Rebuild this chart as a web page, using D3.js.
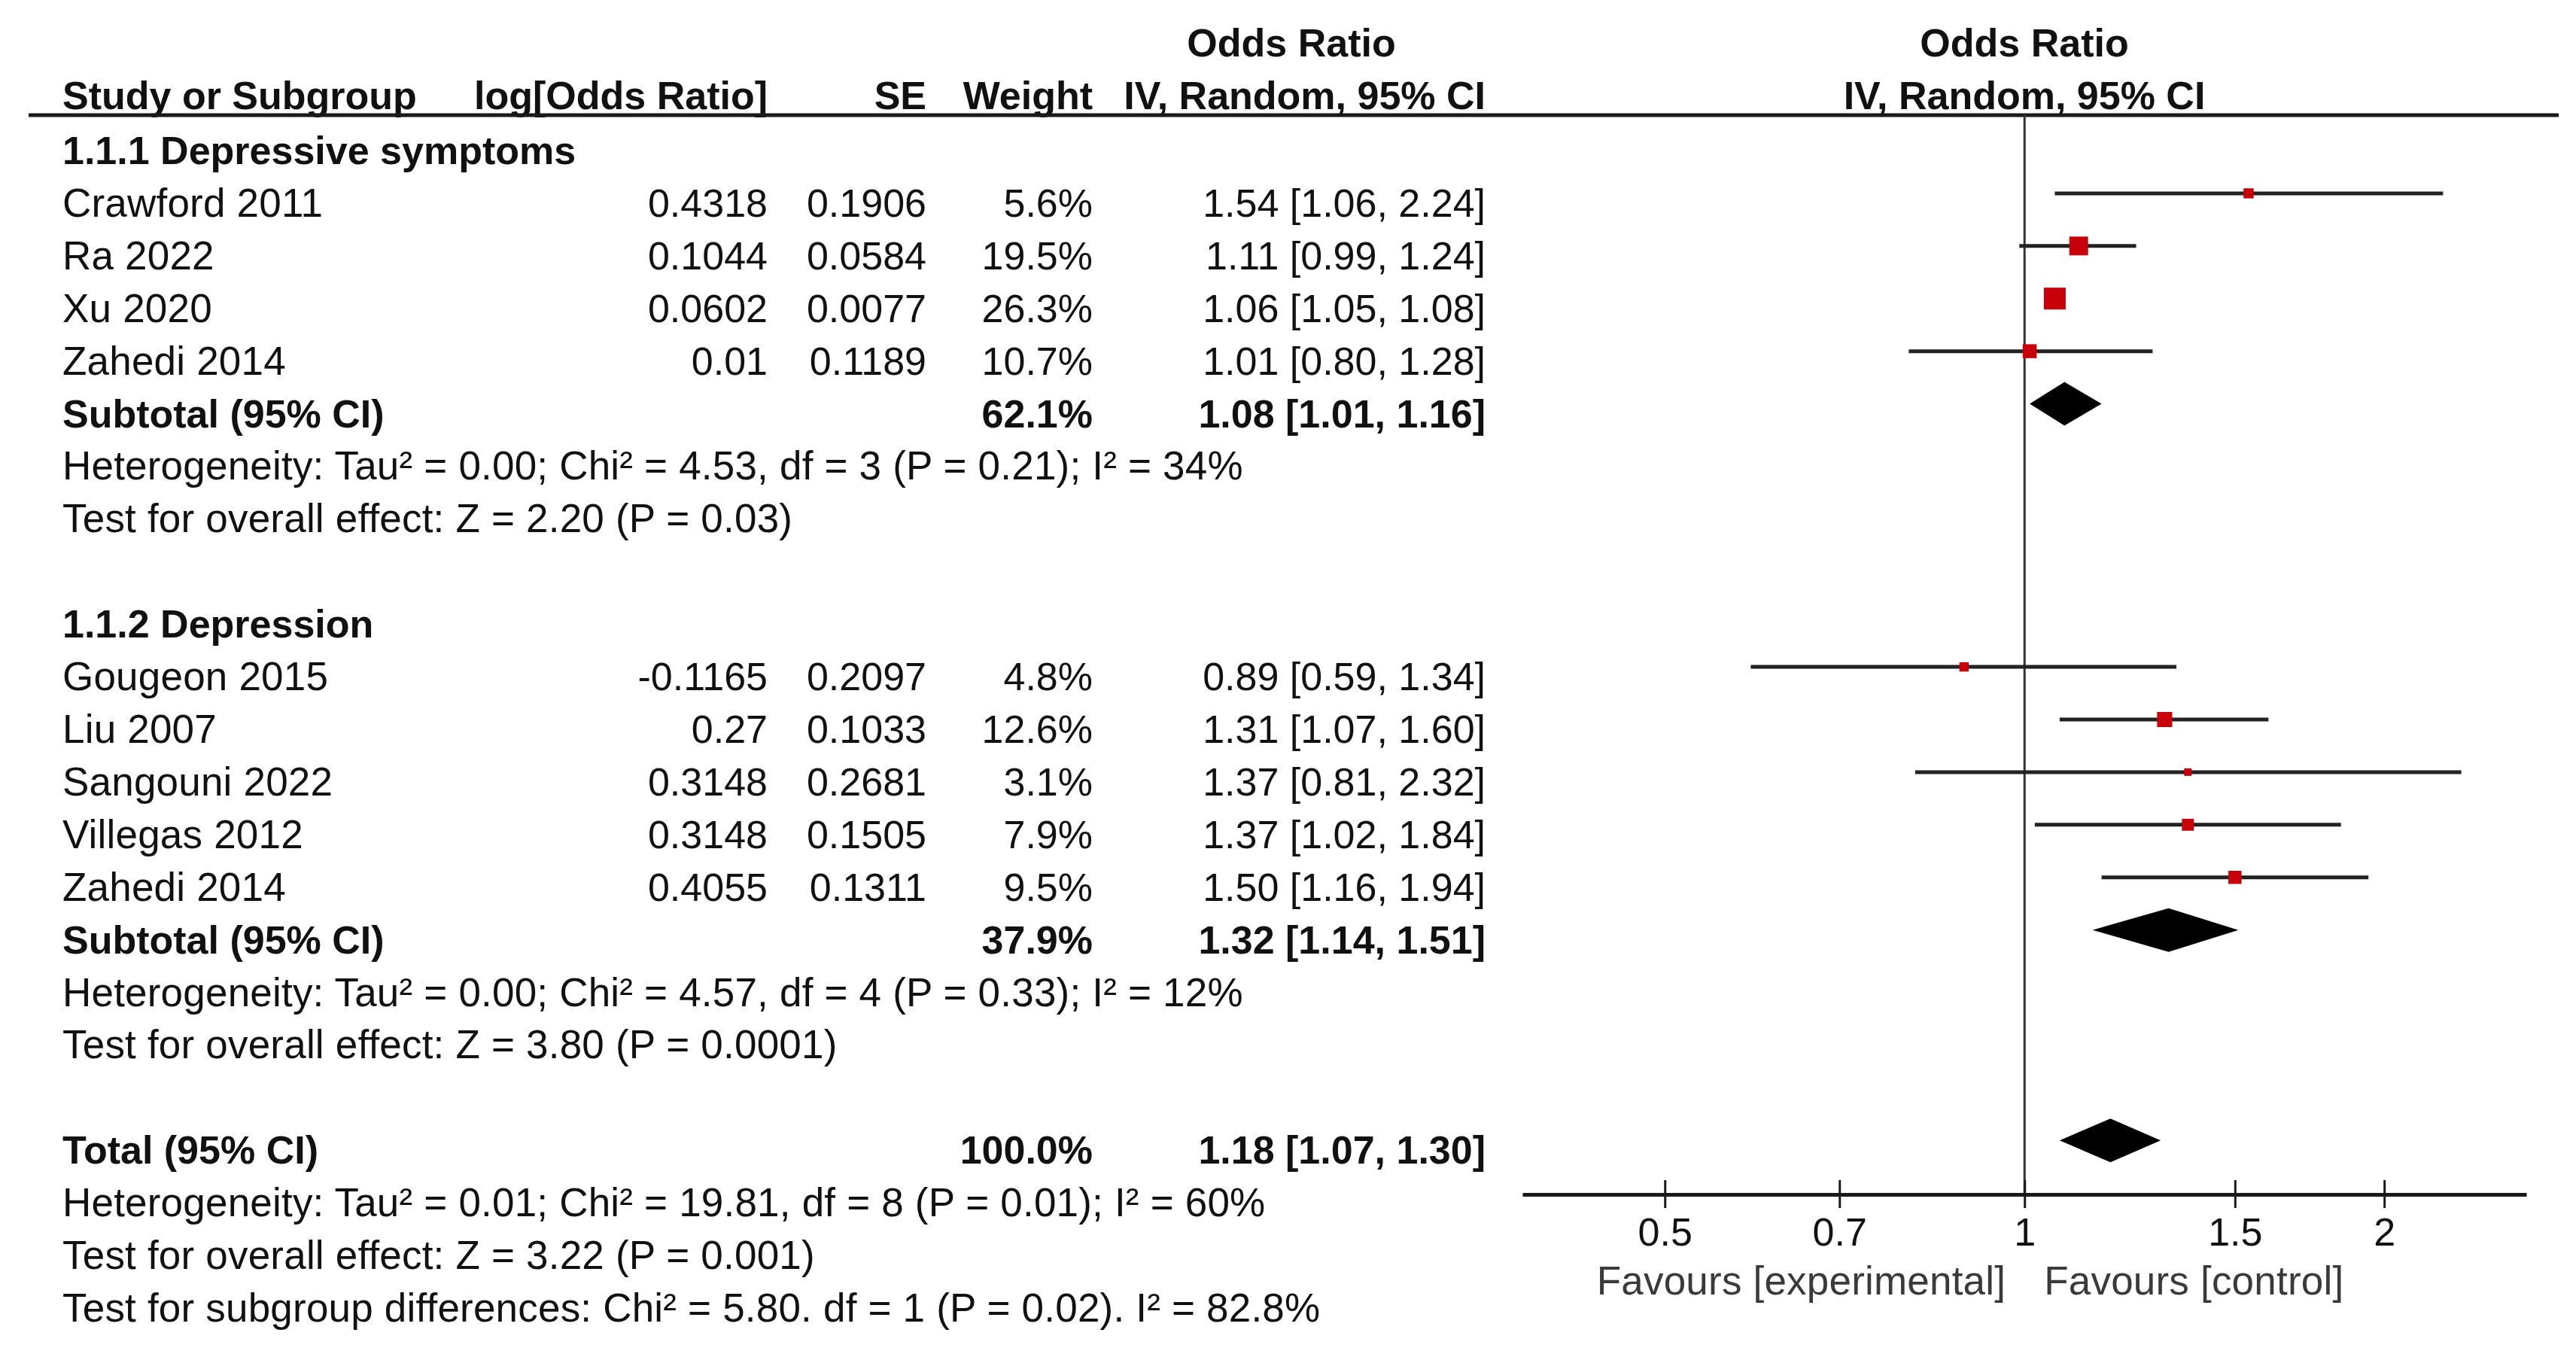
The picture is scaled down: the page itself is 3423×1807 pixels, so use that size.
<!DOCTYPE html>
<html>
<head>
<meta charset="utf-8">
<script src="https://cdn.jsdelivr.net/npm/d3@7"></script>
<style>
  body { margin: 0; background: #fff; }
  svg { display: block; }
  text { font-family: "Liberation Sans", Arial, sans-serif; font-size: 53px; letter-spacing: 0.2px; fill: #111; }
  .num { letter-spacing: 0; font-size: 52px; }
  .bold { font-weight: bold; font-size: 52px; letter-spacing: 0; }
</style>
</head>
<body>
<svg id="chart" width="3423" height="1807"></svg>
<script>
// study rows
const studyNames = ['Crawford 2011', 'Ra 2022', 'Xu 2020', 'Zahedi 2014',
  'Gougeon 2015', 'Liu 2007', 'Sangouni 2022', 'Villegas 2012', 'Zahedi 2014'];
const studyGroup = [0, 0, 0, 0, 1, 1, 1, 1, 1];
const logOddsRatio = [0.4318, 0.1044, 0.0602, 0.01, -0.1165, 0.27, 0.3148, 0.3148, 0.4055];
const standardError = [0.1906, 0.0584, 0.0077, 0.1189, 0.2097, 0.1033, 0.2681, 0.1505, 0.1311];
const weights = [5.6, 19.5, 26.3, 10.7, 4.8, 12.6, 3.1, 7.9, 9.5];
const oddsRatio = [1.54, 1.11, 1.06, 1.01, 0.89, 1.31, 1.37, 1.37, 1.50];
const ciLow = [1.06, 0.99, 1.05, 0.80, 0.59, 1.07, 0.81, 1.02, 1.16];
const ciHigh = [2.24, 1.24, 1.08, 1.28, 1.34, 1.60, 2.32, 1.84, 1.94];

// subgroups
const groupTitles = ['1.1.1 Depressive symptoms', '1.1.2 Depression'];
const subtotalWeight = [62.1, 37.9];
const subtotalOR = [1.08, 1.32];
const subtotalLow = [1.01, 1.14];
const subtotalHigh = [1.16, 1.51];
const groupHeterogeneity = [
  'Heterogeneity: Tau² = 0.00; Chi² = 4.53, df = 3 (P = 0.21); I² = 34%',
  'Heterogeneity: Tau² = 0.00; Chi² = 4.57, df = 4 (P = 0.33); I² = 12%'
];
const groupOverall = [
  'Test for overall effect: Z = 2.20 (P = 0.03)',
  'Test for overall effect: Z = 3.80 (P = 0.0001)'
];

// overall
const totalWeight = 100.0;
const totalOR = 1.18, totalLow = 1.07, totalHigh = 1.30;
const totalNotes = [
  'Heterogeneity: Tau² = 0.01; Chi² = 19.81, df = 8 (P = 0.01); I² = 60%',
  'Test for overall effect: Z = 3.22 (P = 0.001)',
  'Test for subgroup differences: Chi² = 5.80. df = 1 (P = 0.02). I² = 82.8%'
];

// axis
const tickValues = [0.5, 0.7, 1, 1.5, 2];
const favourLabels = ['Favours [experimental]', 'Favours [control]'];
const headerLabels = ['Study or Subgroup', 'log[Odds Ratio]', 'SE', 'Weight', 'IV, Random, 95% CI'];

const svg = d3.select('#chart');
const fmt2 = d3.format('.2f');
const ciText = (o, l, h) => `${fmt2(o)} [${fmt2(l)}, ${fmt2(h)}]`;

// layout
const col = { study: 83, logor: 1020, se: 1231, weight: 1452, ci: 1974, ciHead: 1716 };
const headerLineY = 153;
const axisY = 1587;
const markerOffset = -31;

const x = d3.scaleLog().domain([0.38, 2.63]).range([2023, 3357]);
const y = d3.scaleLinear().domain([0, 22]).range([218, 1756]);
const side = d3.scaleSqrt().domain([0, 26.3]).range([0, 29]);

// build the row list
const rows = [];
let idx = 0;
groupTitles.forEach((title, g) => {
  rows.push({ idx: idx++, type: 'title', label: title });
  studyNames.forEach((name, i) => {
    if (studyGroup[i] === g) rows.push({ idx: idx++, type: 'study', i });
  });
  rows.push({ idx: idx++, type: 'subtotal', g });
  rows.push({ idx: idx++, type: 'note', label: groupHeterogeneity[g] });
  rows.push({ idx: idx++, type: 'note', label: groupOverall[g] });
  idx++; // blank line
});
rows.push({ idx: idx++, type: 'total' });
totalNotes.forEach(t => rows.push({ idx: idx++, type: 'note', label: t }));

// headers
const midX = (x.range()[0] + x.range()[1]) / 2;
svg.append('text').attr('class', 'bold').attr('x', col.ciHead).attr('y', y(-2) - 3)
  .attr('text-anchor', 'middle').text('Odds Ratio');
svg.append('text').attr('class', 'bold').attr('x', midX).attr('y', y(-2) - 3)
  .attr('text-anchor', 'middle').text('Odds Ratio');
const headX = [col.study, col.logor, col.se, col.weight, col.ci];
svg.selectAll('.head').data(headerLabels).join('text')
  .attr('class', 'head bold')
  .attr('x', (d, i) => headX[i])
  .attr('y', y(-1) - 3)
  .attr('text-anchor', (d, i) => i === 0 ? 'start' : 'end')
  .text(d => d);
svg.append('text').attr('class', 'bold').attr('x', midX).attr('y', y(-1) - 3)
  .attr('text-anchor', 'middle').text('IV, Random, 95% CI');

svg.append('line').attr('x1', 38).attr('x2', 3400).attr('y1', headerLineY).attr('y2', headerLineY)
  .attr('stroke', '#1a1a1a').attr('stroke-width', 5);

// line of no effect
svg.append('line').attr('x1', x(1)).attr('x2', x(1)).attr('y1', headerLineY).attr('y2', axisY)
  .attr('stroke', '#333').attr('stroke-width', 3);

// text rows
const rowG = svg.selectAll('.row').data(rows).join('g')
  .attr('class', 'row')
  .attr('transform', d => `translate(0,${y(d.idx)})`);

rowG.each(function (d) {
  const g = d3.select(this);
  const put = (xx, anchor, txt, cls) => g.append('text')
    .attr('x', xx).attr('text-anchor', anchor)
    .attr('class', cls).text(txt);
  if (d.type === 'title') put(col.study, 'start', d.label, 'bold');
  if (d.type === 'note') put(col.study, 'start', d.label, null);
  if (d.type === 'study') {
    const i = d.i;
    put(col.study, 'start', studyNames[i], null);
    put(col.logor, 'end', String(logOddsRatio[i]), 'num');
    put(col.se, 'end', String(standardError[i]), 'num');
    put(col.weight, 'end', weights[i].toFixed(1) + '%', 'num');
    put(col.ci, 'end', ciText(oddsRatio[i], ciLow[i], ciHigh[i]), 'num');
  }
  if (d.type === 'subtotal') {
    put(col.study, 'start', 'Subtotal (95% CI)', 'bold');
    put(col.weight, 'end', subtotalWeight[d.g].toFixed(1) + '%', 'bold');
    put(col.ci, 'end', ciText(subtotalOR[d.g], subtotalLow[d.g], subtotalHigh[d.g]), 'bold');
  }
  if (d.type === 'total') {
    put(col.study, 'start', 'Total (95% CI)', 'bold');
    put(col.weight, 'end', totalWeight.toFixed(1) + '%', 'bold');
    put(col.ci, 'end', ciText(totalOR, totalLow, totalHigh), 'bold');
  }
});

// study CIs and squares
const studyRows = rows.filter(d => d.type === 'study');
svg.selectAll('.ci').data(studyRows).join('line')
  .attr('class', 'ci')
  .attr('x1', d => x(ciLow[d.i])).attr('x2', d => x(ciHigh[d.i]))
  .attr('y1', d => y(d.idx) + markerOffset).attr('y2', d => y(d.idx) + markerOffset)
  .attr('stroke', '#222').attr('stroke-width', 5);
svg.selectAll('.sq').data(studyRows).join('rect')
  .attr('class', 'sq')
  .attr('x', d => x(oddsRatio[d.i]) - side(weights[d.i]) / 2)
  .attr('y', d => y(d.idx) + markerOffset - side(weights[d.i]) / 2)
  .attr('width', d => side(weights[d.i]))
  .attr('height', d => side(weights[d.i]))
  .attr('fill', '#c8000a');

// diamonds
const diamonds = rows.filter(d => d.type === 'subtotal').map(d => ({
  idx: d.idx, o: subtotalOR[d.g], l: subtotalLow[d.g], h: subtotalHigh[d.g]
}));
rows.filter(d => d.type === 'total').forEach(d => diamonds.push({ idx: d.idx, o: totalOR, l: totalLow, h: totalHigh }));
const halfH = 29;
svg.selectAll('.dia').data(diamonds).join('path')
  .attr('class', 'dia')
  .attr('d', d => {
    const c = y(d.idx) + markerOffset;
    return `M${x(d.l)},${c}L${x(d.o)},${c - halfH}L${x(d.h)},${c}L${x(d.o)},${c + halfH}Z`;
  })
  .attr('fill', '#000');

// axis
const axis = svg.append('g').attr('transform', `translate(0,${axisY})`)
  .call(d3.axisBottom(x).tickValues(tickValues).tickFormat(d => String(d)).tickSizeInner(18).tickSizeOuter(0));
axis.attr('font-size', null).attr('font-family', null);
axis.select('.domain').attr('stroke', '#1a1a1a').attr('stroke-width', 5);
axis.selectAll('.tick line').attr('y1', -19).attr('y2', 18).attr('stroke', '#1a1a1a').attr('stroke-width', 3);
axis.selectAll('.tick text').attr('y', 68).attr('dy', null).attr('class', 'num').attr('fill', '#111');

svg.selectAll('.fav').data(favourLabels).join('text')
  .attr('class', 'fav')
  .attr('x', (d, i) => i === 0 ? x(1) - 25 : x(1) + 26)
  .attr('y', 1720)
  .attr('text-anchor', (d, i) => i === 0 ? 'end' : 'start')
  .style('fill', '#3a3a3a')
  .text(d => d);
</script>
</body>
</html>
